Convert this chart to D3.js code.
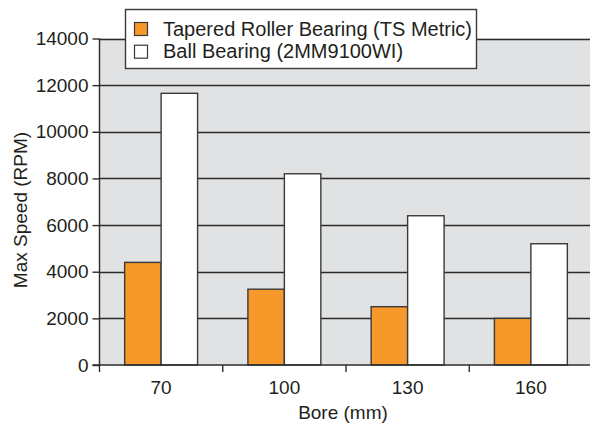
<!DOCTYPE html>
<html><head><meta charset="utf-8">
<script src="https://cdn.jsdelivr.net/npm/d3@7"></script>
<style>body{margin:0;background:#fff}svg{display:block}text{font-family:"Liberation Sans Narrow","Liberation Sans",Arial,sans-serif;fill:#231f20}</style>
</head><body><svg id="c" width="590" height="426"></svg>
<script>
const categories = ["70","100","130","160"];
const seriesNames = ["Tapered Roller Bearing (TS Metric)","Ball Bearing (2MM9100WI)"];
const tapered = [4400, 3250, 2500, 2000];
const ball = [11650, 8200, 6400, 5200];
const yTicks = [0,2000,4000,6000,8000,10000,12000,14000];
const colors = ["#f7982a","#ffffff"];

const svg = d3.select("#c");
const L = 99.5, R = 592.5, T = 38.5, B = 365;
const x = d3.scaleBand().domain(categories).range([L,R]).paddingInner(0).paddingOuter(0);
const xs = d3.scaleBand().domain([0,1]).range([0,x.bandwidth()]).paddingInner(0).paddingOuter(0.69);
const y = d3.scaleLinear().domain([0,14000]).range([B,T]);

svg.append("rect").attr("x",L).attr("y",T).attr("width",R-L).attr("height",B-T).attr("fill","#e1e2e4");

// gridlines
svg.append("g").selectAll("line").data(yTicks.filter(d=>d>0)).join("line")
  .attr("x1",L).attr("x2",R).attr("y1",d=>Math.round(y(d))+0.5).attr("y2",d=>Math.round(y(d))+0.5)
  .attr("stroke","#2b2b2b").attr("stroke-width",1.4);

// bars
const series = [tapered, ball];
series.forEach((vals,si)=>{
  svg.append("g").selectAll("rect").data(vals).join("rect")
    .attr("x",(d,i)=>x(categories[i])+xs(si))
    .attr("y",d=>y(d))
    .attr("width",xs.bandwidth())
    .attr("height",d=>B-y(d))
    .attr("fill",colors[si]).attr("stroke","#3a3a3a").attr("stroke-width",1.4);
});

// y axis
const yAxis = d3.axisLeft(y).tickValues(yTicks).tickSize(7).tickPadding(4).tickFormat(d3.format("d"));
const gy = svg.append("g").attr("transform",`translate(${L},0)`).call(yAxis);
gy.select(".domain").attr("stroke","#2b2b2b").attr("stroke-width",1.4).attr("d",`M0,${B}V${T}`);
gy.selectAll(".tick line").attr("stroke","#2b2b2b").attr("stroke-width",1.4);
gy.selectAll("text").style("font-size","19px").attr("fill","#231f20").style("font-family",'"Liberation Sans Narrow",Arial,sans-serif');

// x axis
const xTickPos = d3.range(categories.length+1).map(i=>L+i*x.bandwidth());
const gx = svg.append("g");
gx.append("line").attr("x1",L-7).attr("x2",R).attr("y1",B).attr("y2",B).attr("stroke","#2b2b2b").attr("stroke-width",1.4);
gx.selectAll(".tk").data(xTickPos).join("line").attr("class","tk")
  .attr("x1",d=>d).attr("x2",d=>d).attr("y1",B).attr("y2",B+7).attr("stroke","#2b2b2b").attr("stroke-width",1.4);
gx.selectAll("text").data(categories).join("text")
  .attr("x",d=>x(d)+x.bandwidth()/2).attr("y",B+29).attr("text-anchor","middle")
  .style("font-size","19px").text(d=>d);

// axis titles
svg.append("text").attr("x",343).attr("y",419).attr("text-anchor","middle").style("font-size","19px").text("Bore (mm)");
svg.append("text").attr("transform","translate(27,210) rotate(-90)").attr("text-anchor","middle").style("font-size","19px").text("Max Speed (RPM)");

// legend
const lg = svg.append("g");
lg.append("rect").attr("x",125.5).attr("y",9.5).attr("width",351).attr("height",59).attr("fill","#fff").attr("stroke","#3a3a3a").attr("stroke-width",1.4);
seriesNames.forEach((n,i)=>{
  lg.append("rect").attr("x",134.5).attr("y",22.5+i*22.7).attr("width",13).attr("height",13)
    .attr("fill",colors[i]).attr("stroke","#3a3a3a").attr("stroke-width",1.2);
  lg.append("text").attr("x",163).attr("y",35.5+i*22.7).style("font-size","20px").text(n);
});
</script></body></html>
